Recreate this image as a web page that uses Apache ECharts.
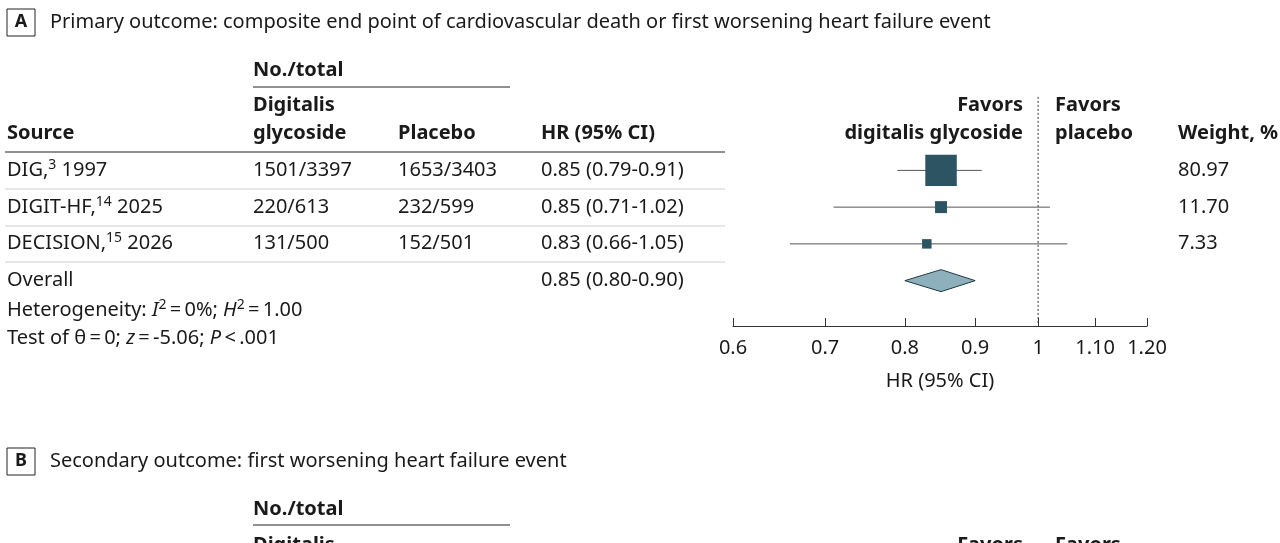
<!DOCTYPE html>
<html><head><meta charset="utf-8">
<script src="https://cdn.jsdelivr.net/npm/echarts@6/dist/echarts.min.js"></script>
<style>html,body{margin:0;padding:0;background:#fff}#c{width:1280px;height:543px}</style>
</head><body><div id="c"></div>
<script>
// study rows
const sources = ['DIG,', 'DIGIT-HF,', 'DECISION,'];
const refs = ['3', '14', '15'];
const years = ['1997', '2025', '2026'];
const digTotals = ['1501/3397', '220/613', '131/500'];
const placeboTotals = ['1653/3403', '232/599', '152/501'];
const hr = [0.85, 0.85, 0.83];
const lo = [0.79, 0.71, 0.66];
const hi = [0.91, 1.02, 1.05];
const weights = [80.97, 11.70, 7.33];
const overall = [0.85, 0.80, 0.90];
const tickValues = [0.6, 0.7, 0.8, 0.9, 1, 1.1, 1.2];
const tickLabels = ['0.6', '0.7', '0.8', '0.9', '1', '1.10', '1.20'];

const FONT = 'Noto Sans';
const FS = 20;
const dark = '#2d5463';
const ln = Math.log;

const chart = echarts.init(document.getElementById('c'));

function txt(x, y, text, opt) {
  return {
    type: 'text', x: x, y: y,
    style: Object.assign({ text: text, fontFamily: FONT, fontSize: FS, fill: '#1a1a1a', verticalAlign: 'middle' }, opt || {})
  };
}
function line(x1, y1, x2, y2, color, w) {
  return { type: 'line', shape: { x1: x1, y1: y1, x2: x2, y2: y2 }, style: { stroke: color || '#222', lineWidth: w || 1 } };
}
const supRich = { sup: { fontFamily: FONT, fontSize: 14, verticalAlign: 'top', padding: [0, 0, 10, 0] }, i: { fontFamily: FONT, fontSize: FS, fontStyle: 'italic' } };

function panelHeader(y, letter, title) {
  return [
    { type: 'rect', shape: { x: 7, y: y - 13, width: 28, height: 27 }, style: { fill: '#fff', stroke: '#222', lineWidth: 1 } },
    txt(21, y, letter, { fontWeight: 'bold', align: 'center', fontSize: 18 }),
    txt(50, y, title)
  ];
}

const g = [];
g.push(...panelHeader(22, 'A', 'Primary outcome: composite end point of cardiovascular death or first worsening heart failure event'));
g.push(txt(253, 70, 'No./total', { fontWeight: 'bold' }));
g.push(line(253, 87, 510, 87));
g.push(txt(253, 105, 'Digitalis', { fontWeight: 'bold' }));
g.push(txt(253, 133, 'glycoside', { fontWeight: 'bold' }));
g.push(txt(7, 133, 'Source', { fontWeight: 'bold' }));
g.push(txt(398, 133, 'Placebo', { fontWeight: 'bold' }));
g.push(txt(541, 133, 'HR (95% CI)', { fontWeight: 'bold' }));
g.push(line(5, 152, 725, 152, '#222', 1.2));
g.push(txt(1023, 105, 'Favors', { fontWeight: 'bold', align: 'right' }));
g.push(txt(1023, 133, 'digitalis glycoside', { fontWeight: 'bold', align: 'right' }));
g.push(txt(1055, 105, 'Favors', { fontWeight: 'bold' }));
g.push(txt(1055, 133, 'placebo', { fontWeight: 'bold' }));
g.push(txt(1178, 133, 'Weight, %', { fontWeight: 'bold' }));

const rowY = [170, 207, 243];
for (let i = 0; i < sources.length; i++) {
  const y = rowY[i];
  g.push(txt(7, y, sources[i] + '{sup|' + refs[i] + '} ' + years[i], { rich: supRich }));
  g.push(txt(253, y, digTotals[i]));
  g.push(txt(398, y, placeboTotals[i]));
  g.push(txt(541, y, hr[i].toFixed(2) + ' (' + lo[i].toFixed(2) + '-' + hi[i].toFixed(2) + ')'));
  g.push(txt(1178, y, weights[i].toFixed(2)));
  g.push(line(5, y + 19, 725, y + 19, '#cfcfcf', 1));
}
g.push(txt(7, 280, 'Overall'));
g.push(txt(541, 280, overall[0].toFixed(2) + ' (' + overall[1].toFixed(2) + '-' + overall[2].toFixed(2) + ')'));
g.push(txt(7, 310, 'Heterogeneity: {i|I}{sup|2}\u2009=\u20090%; {i|H}{sup|2}\u2009=\u20091.00', { rich: supRich }));
g.push(txt(7, 338, 'Test of \u03b8\u2009=\u20090; {i|z}\u2009=\u2009-5.06; {i|P}\u2009<\u2009.001', { rich: supRich }));
g.push(txt(940, 381, 'HR (95% CI)', { align: 'center' }));

g.push(...panelHeader(461, 'B', 'Secondary outcome: first worsening heart failure event'));
g.push(txt(253, 509, 'No./total', { fontWeight: 'bold' }));
g.push(line(253, 525, 510, 525));
g.push(txt(253, 545, 'Digitalis', { fontWeight: 'bold' }));
g.push(txt(1023, 545, 'Favors', { fontWeight: 'bold', align: 'right' }));
g.push(txt(1055, 545, 'Favors', { fontWeight: 'bold' }));

const studyData = hr.map((v, i) => [ln(v), i, ln(lo[i]), ln(hi[i]), Math.sqrt(weights[i]) * 3.5]);

chart.setOption({
  animation: false,
  grid: { left: 733, width: 414, top: 152, height: 147 },
  xAxis: {
    type: 'value', min: ln(0.6), max: ln(1.2), offset: 27, position: 'bottom',
    axisLine: { onZero: false, lineStyle: { color: '#333', width: 1.2 } },
    axisTick: { show: true, inside: true, length: 8, customValues: tickValues.map(ln), lineStyle: { color: '#333' } },
    axisLabel: {
      customValues: tickValues.map(ln), margin: 12, fontFamily: FONT, fontSize: FS, color: '#1a1a1a',
      formatter: v => { const k = tickValues.findIndex(t => Math.abs(ln(t) - v) < 1e-6); return k >= 0 ? tickLabels[k] : ''; }
    },
    splitLine: { show: false }
  },
  yAxis: { type: 'value', min: -0.5, max: 3.5, inverse: true, show: false },
  series: [
    {
      type: 'custom', data: studyData,
      encode: { x: [0, 2, 3], y: 1 },
      renderItem: (params, api) => {
        const c = api.coord([api.value(0), api.value(1)]);
        const a = api.coord([api.value(2), api.value(1)]);
        const b = api.coord([api.value(3), api.value(1)]);
        const s = api.value(4);
        return { type: 'group', children: [
          { type: 'line', shape: { x1: a[0], y1: c[1], x2: b[0], y2: c[1] }, style: { stroke: '#555', lineWidth: 1 } },
          { type: 'rect', shape: { x: c[0] - s / 2, y: c[1] - s / 2, width: s, height: s }, style: { fill: dark } }
        ] };
      }
    },
    {
      type: 'custom', data: [[ln(overall[0]), 3, ln(overall[1]), ln(overall[2])]],
      encode: { x: [0, 2, 3], y: 1 },
      renderItem: (params, api) => {
        const c = api.coord([api.value(0), api.value(1)]);
        const a = api.coord([api.value(2), api.value(1)]);
        const b = api.coord([api.value(3), api.value(1)]);
        return { type: 'polygon', shape: { points: [[a[0], c[1]], [c[0], c[1] - 11], [b[0], c[1]], [c[0], c[1] + 11]] },
          style: { fill: '#8eb0bd', stroke: '#1e3a45', lineWidth: 1 } };
      }
    },
    {
      type: 'line', data: [[0, -2.0], [0, 4.2]], symbol: 'none', silent: true,
      lineStyle: { color: '#333', width: 1, type: [2, 2] }, clip: false
    }
  ],
  graphic: g
});
</script></body></html>
